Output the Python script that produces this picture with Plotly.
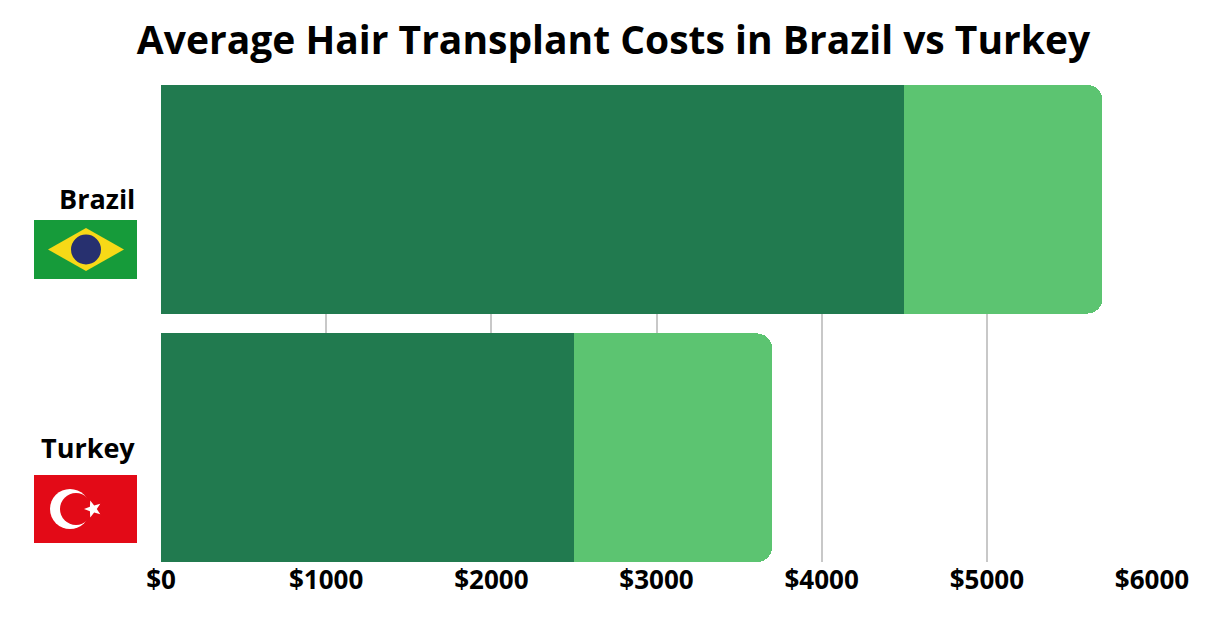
import math
import plotly.graph_objects as go

countries = ["Turkey", "Brazil"]
low_cost = [2500, 4500]
extra_cost = [1200, 1200]
tick_vals = [0, 1000, 2000, 3000, 4000, 5000, 6000]
tick_text = ["$0", "$1000", "$2000", "$3000", "$4000", "$5000", "$6000"]

W, H = 1211, 637
OFF = 8  # page body margin
L, T = 161, 85            # plot corner in the reference picture
pw, ph = 992, 477


def px(x, y):
    # reference pixel position -> paper coordinates
    return (x - L) / pw, (T + ph - y) / ph


def path(points):
    s = ""
    for i, (x, y) in enumerate(points):
        u, v = px(x, y)
        s += ("M" if i == 0 else "L") + f"{u:.5f},{v:.5f} "
    return s + "Z"


def rect(x0, y0, x1, y1, color):
    u0, v0 = px(x0, y1)
    u1, v1 = px(x1, y0)
    return dict(type="rect", xref="paper", yref="paper", x0=u0, y0=v0, x1=u1, y1=v1,
                fillcolor=color, line_width=0, layer="above")


def circle(cx, cy, r, color):
    u0, v0 = px(cx - r, cy + r)
    u1, v1 = px(cx + r, cy - r)
    return dict(type="circle", xref="paper", yref="paper", x0=u0, y0=v0, x1=u1, y1=v1,
                fillcolor=color, line_width=0, layer="above")


def star(cx, cy, ro, ri, rot):
    pts = []
    for k in range(10):
        r = ro if k % 2 == 0 else ri
        a = rot + k * math.pi / 5
        pts.append((cx + r * math.cos(a), cy + r * math.sin(a)))
    return dict(type="path", xref="paper", yref="paper", path=path(pts),
                fillcolor="white", line_width=0, layer="above")


fig = go.Figure()
fig.add_bar(y=countries, x=low_cost, orientation="h", marker_color="#217a4f",
            marker_line_width=0)
fig.add_bar(y=countries, x=extra_cost, orientation="h", marker_color="#5cc471",
            marker_line_width=0)

shapes = [
    # Brazil flag
    rect(34, 220, 137, 279, "#169b3a"),
    dict(type="path", xref="paper", yref="paper",
         path=path([(48, 249.5), (86, 228), (124, 249.5), (86, 271)]),
         fillcolor="#f7d917", line_width=0, layer="above"),
    circle(86, 249.5, 15, "#27306f"),
    # Turkey flag
    rect(34, 475, 137, 543, "#e30a17"),
    circle(70, 509, 20, "white"),
    circle(76, 509, 16, "#e30a17"),
    star(93, 509, 9, 3.8, math.pi),
]

fig.update_layout(
    width=W, height=H,
    margin=dict(l=L - OFF, r=W - (L - OFF) - pw, t=T - OFF, b=H - (T - OFF) - ph),
    barmode="stack", bargap=0.08, barcornerradius=15,
    showlegend=False,
    plot_bgcolor="white", paper_bgcolor="white",
    font=dict(family="Open Sans", color="black"),
    title=dict(text="<b>Average Hair Transplant Costs in Brazil vs Turkey</b>",
               x=0.5, xanchor="center", y=(H - 40 + OFF) / H, yanchor="middle",
               font=dict(size=39)),
    xaxis=dict(range=[0, 6006], tickvals=tick_vals, ticktext=tick_text,
               showgrid=True, gridcolor="#c8c8c8", gridwidth=1.5, zeroline=False,
               tickfont=dict(size=26, family="Open Sans", weight="bold"), ticks=""),
    yaxis=dict(range=[-0.46, 1.46], showticklabels=False, showgrid=False, zeroline=False),
    shapes=shapes,
)
for name, ypx in [("Brazil", 198), ("Turkey", 447)]:
    u, v = px(137, ypx)
    fig.add_annotation(xref="paper", yref="paper", x=u, y=v, text=f"<b>{name}</b>",
                       showarrow=False, xanchor="right", yanchor="middle",
                       font=dict(size=27))

fig.write_html("out.html")
